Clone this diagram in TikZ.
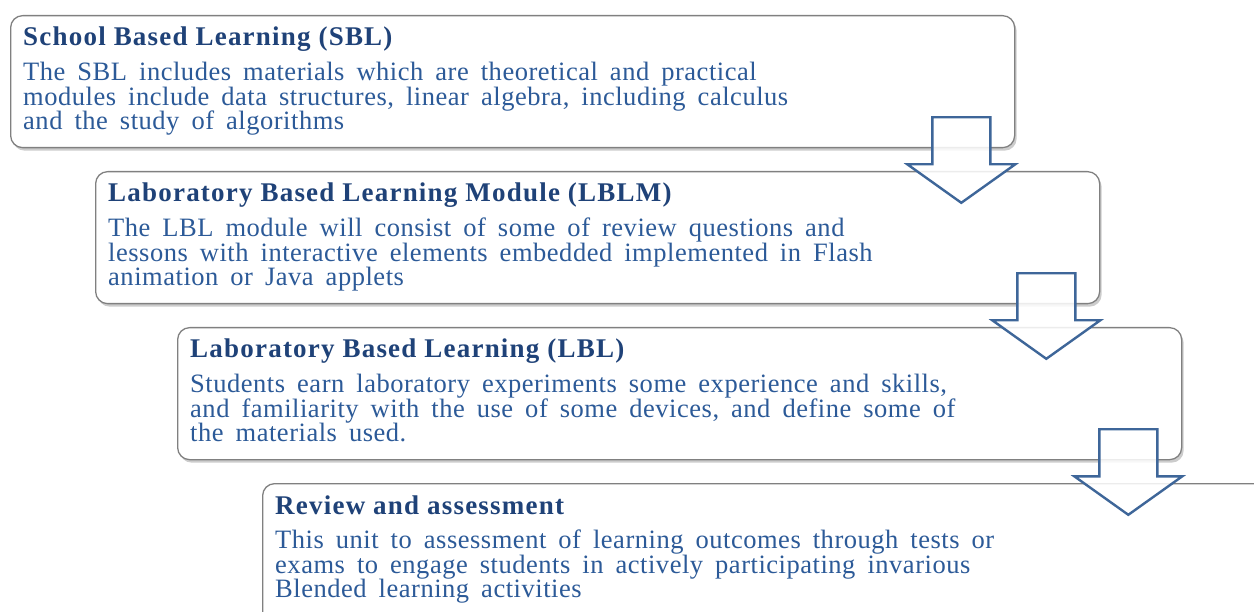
\documentclass[tikz,border=0pt]{standalone}
\usepackage{fontspec}
\setmainfont{Liberation Serif}
\newfontfamily\headfont{Liberation Serif}[LetterSpace = 4.5]
\newfontfamily\bodyfont{Liberation Serif}[LetterSpace = 2]
\usepackage{tikz}
\usetikzlibrary{calc, shadows}

\definecolor{headblue}{HTML}{1F4278}
\definecolor{textblue}{HTML}{2C5A98}
\definecolor{arrowblue}{HTML}{3E6699}
\definecolor{boxgray}{HTML}{808080}

\begin{document}
\begin{tikzpicture}[
    x = 1pt, y = -1pt,
    stage/.style = {rectangle,
      rounded corners = 12pt,
      draw = boxgray,
      line width = 1.3pt,
      fill = white,
      anchor = north west,
      minimum width = 1004pt,
      minimum height = 132pt,
      drop shadow = {shadow xshift = 2pt, shadow yshift = -3pt,
        opacity = 0.4, fill = gray}},
    heading/.style = {anchor = base west,
      inner sep = 0pt,
      text = headblue,
      font = {\headfont\fontsize{27}{27}\selectfont\bfseries}},
    body/.style = {anchor = north west,
      inner sep = 0pt,
      align = left,
      text = textblue,
      font = {\bodyfont\fontsize{26.5}{24.5}\selectfont\spaceskip = 12pt}},
    flow/.style = {draw = arrowblue,
      line width = 2.4pt,
      fill = white,
      fill opacity = 0.85,
      line join = miter}
    ]

    \useasboundingbox (0, 0) rectangle (1254, 612);
    \clip (0, 0) rectangle (1254, 612);

    \node at (10, 15) [stage, name = sbl] {};
    \node at (95, 171) [stage, name = lblm] {};
    \node at (177, 327) [stage, name = lbl] {};
    \node at (262, 483) [stage, minimum height = 150pt, name = review] {};

    \node at ($(sbl.north west) + (13, 31)$) [heading, name = sbl head] {School Based Learning (SBL)};
    \node at ($(sbl head.base west) + (0, 16)$) [body, name = sbl text]
      {The SBL includes materials which are theoretical and practical\\
       modules include data structures, linear algebra, including calculus\\
       and the study of algorithms};

    \node at ($(lblm.north west) + (13, 31)$) [heading, name = lblm head] {Laboratory Based Learning Module (LBLM)};
    \node at ($(lblm head.base west) + (0, 16)$) [body, name = lblm text]
      {The LBL module will consist of some of review questions and\\
       lessons with interactive elements embedded implemented in Flash\\
       animation or Java applets};

    \node at ($(lbl.north west) + (13, 31)$) [heading, name = lbl head] {Laboratory Based Learning (LBL)};
    \node at ($(lbl head.base west) + (0, 16)$) [body, name = lbl text]
      {Students earn laboratory experiments some experience and skills,\\
       and familiarity with the use of some devices, and define some of\\
       the materials used.};

    \node at ($(review.north west) + (13, 31)$) [heading, name = review head] {Review and assessment};
    \node at ($(review head.base west) + (0, 16)$) [body, name = review text]
      {This unit to assessment of learning outcomes through tests or\\
       exams to engage students in actively participating invarious\\
       Blended learning activities};

    \foreach \from in {sbl, lblm, lbl}
      \draw [flow] ($(\from.south east) + (-83, -31)$) -- ++(58, 0) -- ++(0, 47) -- ++(25, 0)
        -- ++(-54, 38.5) -- ++(-54, -38.5) -- ++(25, 0) -- cycle;

  \end{tikzpicture}
\end{document}
